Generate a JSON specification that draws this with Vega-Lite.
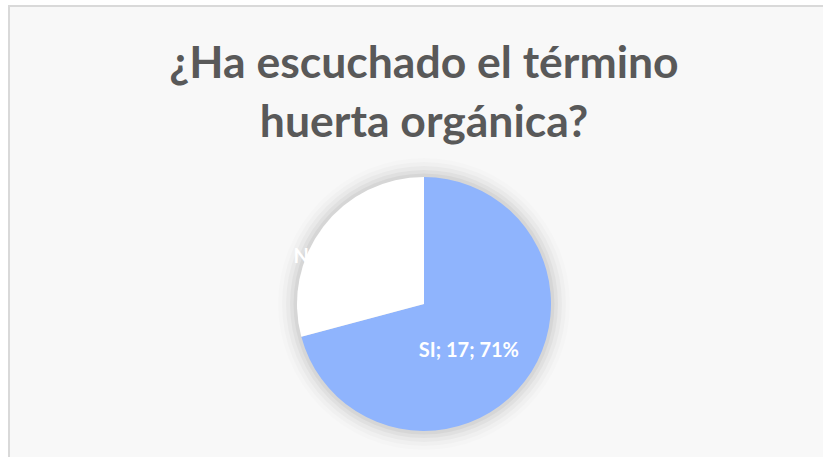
{
  "$schema": "https://vega.github.io/schema/vega-lite/v6.json",
  "width": 830,
  "height": 596,
  "padding": {"left": 9, "top": 6, "right": 0, "bottom": 0},
  "autosize": {"type": "none"},
  "background": "#ffffff",
  "view": {"stroke": "#d9d9d9", "strokeWidth": 2, "fill": "#f8f8f8"},
  "title": {
    "text": ["¿Ha escuchado el término", "huerta orgánica?"],
    "orient": "top",
    "anchor": "middle",
    "baseline": "top",
    "offset": -140,
    "font": "Lato",
    "fontSize": 44.5,
    "fontWeight": "bold",
    "color": "#595959",
    "lineHeight": 59
  },
  "resolve": {"scale": {"theta": "independent"}},
  "layer": [
    {
      "data": {"values": [{"v": 1}]},
      "encoding": {"theta": {"field": "v", "type": "quantitative"}},
      "layer": [
        {"mark": {"type": "arc", "radius": 146, "fill": "#000000", "opacity": 0.012}},
        {"mark": {"type": "arc", "radius": 142, "fill": "#000000", "opacity": 0.02}},
        {"mark": {"type": "arc", "radius": 138, "fill": "#000000", "opacity": 0.028}},
        {"mark": {"type": "arc", "radius": 134, "fill": "#000000", "opacity": 0.036}},
        {"mark": {"type": "arc", "radius": 130.5, "fill": "#000000", "opacity": 0.045}}
      ]
    },
    {
      "data": {"values": [
        {"respuesta": "SI", "cantidad": 17, "orden": 1, "etiqueta": "SI; 17; 71%"},
        {"respuesta": "NO", "cantidad": 7, "orden": 2, "etiqueta": "NO; 7; 29%"}
      ]},
      "encoding": {
        "theta": {"field": "cantidad", "type": "quantitative", "stack": true},
        "order": {"field": "orden", "type": "quantitative"}
      },
      "layer": [
        {
          "mark": {"type": "arc", "radius": 127},
          "encoding": {
            "color": {
              "field": "respuesta",
              "type": "nominal",
              "scale": {"domain": ["SI", "NO"], "range": ["#8fb4fd", "#ffffff"]},
              "legend": null
            }
          }
        },
        {
          "mark": {"type": "text", "radius": 78, "dx": -17, "font": "Lato", "fontSize": 20, "fontWeight": "bold", "color": "#ffffff"},
          "encoding": {"text": {"field": "etiqueta"}}
        }
      ]
    }
  ]
}
